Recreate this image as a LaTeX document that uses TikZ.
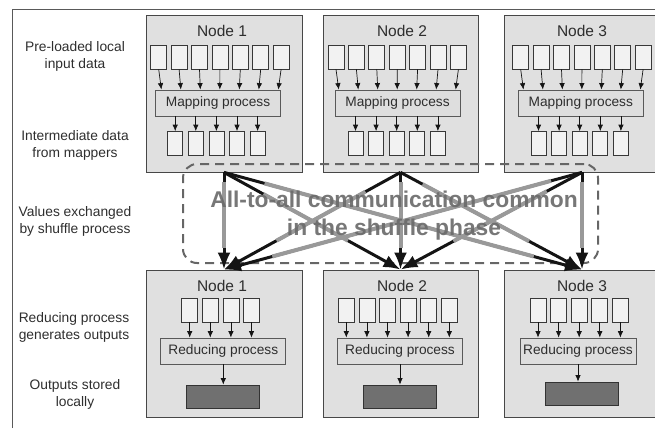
\documentclass[tikz,border=0pt]{standalone}
\usepackage{fontspec}
\setmainfont{Liberation Sans}
\usetikzlibrary{arrows.meta,calc}

\tikzset{
  frame/.style={draw=black!65, line width=0.8pt},
  rowlabel/.style={align=center, text=black!82, font=\fontsize{13.8}{17}\selectfont, inner sep=0pt},
  nodebox/.style={draw=black!72, fill=black!12, line width=0.8pt, inner sep=0pt},
  nodetitle/.style={text=black!82, font=\fontsize{15.5}{18}\selectfont, inner sep=0pt},
  databox/.style={draw=black!78, fill=black!5, line width=0.7pt, minimum width=16pt, minimum height=24pt, inner sep=0pt},
  procbox/.style={draw=black!65, fill=black!13, line width=0.8pt, minimum height=26pt, inner sep=0pt,
    text=black!82, font=\fontsize{13.7}{16}\selectfont},
  resultbox/.style={draw=black!80, fill=black!56, line width=0.8pt, minimum height=23pt, inner sep=0pt},
  smallarrow/.style={-{Latex[length=6.5pt,width=5.5pt]}, line width=0.7pt, black!92},
  shufflearrow/.style={-{Latex[length=17pt,width=13pt]}, line width=3pt, black!92},
  shufflegrey/.style={line width=4pt, black!40},
  shufflearea/.style={draw=black!60, line width=2pt, dash pattern=on 9pt off 6pt, rounded corners=14pt,
    minimum width=415pt, minimum height=99pt, inner sep=0pt},
  shuffletext/.style={align=center, text=black!58, font=\fontsize{22.8}{28}\selectfont\bfseries, inner sep=0pt}
}

\begin{document}
\begin{tikzpicture}[x=1pt,y=-1pt]
\useasboundingbox (0,0) rectangle (655,428);

%outer frame
\draw[frame] (12,428) -- (12,9) -- (655,9);

%row labels
\node[rowlabel] (lbl1) at (75,56.5) {Pre-loaded local\\input data};
\node[rowlabel] (lbl2) at (75,145.5) {Intermediate data\\from mappers};
\node[rowlabel] (lbl3) at (75,221) {Values exchanged\\by shuffle process};
\node[rowlabel] (lbl4) at (74,327) {Reducing process\\generates outputs};
\node[rowlabel] (lbl5) at (75,394.5) {Outputs stored\\locally};

%mapper nodes
\node[nodebox, minimum width=156pt, minimum height=157pt] (mapnode1) at (224,93.5) {};
\node[nodebox, minimum width=155pt, minimum height=157pt] (mapnode2) at (400.5,93.5) {};
\node[nodebox, minimum width=156pt, minimum height=157pt] (mapnode3) at (582,93.5) {};

\foreach \n/\xt/\xa/\xm/\xb in {1/222/158.7/218/175.2, 2/402/336/397.5/355.5, 3/582/520.7/580.8/538.5} {
  \node[nodetitle] (maptitle\n) at (\xt,31) {Node \n};
  \node[procbox, minimum width=125pt] (map\n) at (\xm,103) {Mapping process};
  %input data
  \foreach \k in {0,...,6} {
    \node[databox] (in\n-\k) at (\xa+20.4*\k,57) {};
    \draw[smallarrow] (in\n-\k.south) -- ($(map\n.north)!0.955!(map\n.north -| in\n-\k.south)$);
  }
  %intermediate data
  \foreach \k in {0,...,4} {
    \node[databox, minimum width=15pt] (mid\n-\k) at (\xb+20.6*\k,143.5) {};
    \draw[smallarrow] (map\n.south -| mid\n-\k.north) -- (mid\n-\k.north);
  }
}

%reducer nodes
\node[nodebox, minimum width=156pt, minimum height=147pt] (rednode1) at (224,343.5) {};
\node[nodebox, minimum width=155pt, minimum height=147pt] (rednode2) at (400.5,343.5) {};
\node[nodebox, minimum width=156pt, minimum height=147pt] (rednode3) at (582,343.5) {};

\foreach \n/\xt/\xa/\last/\xr/\wr/\xo/\yo in {1/222/189.7/3/223.3/125/223/396.5,
    2/402/346.3/5/400/125/400/396.5, 3/582/538/4/578/116/581.7/393.5} {
  \node[nodetitle] (redtitle\n) at (\xt,286) {Node \n};
  \node[procbox, minimum width=\wr pt] (red\n) at (\xr,351) {Reducing process};
  \foreach \k in {0,...,\last} {
    \node[databox] (rin\n-\k) at (\xa+20.6*\k,310) {};
    \draw[smallarrow] (rin\n-\k.south) -- (rin\n-\k.south |- red\n.north);
  }
  %stored output
  \node[resultbox, minimum width=73pt] (res\n) at (\xo,\yo) {};
  \draw[smallarrow] (red\n.south) -- (red\n.south |- res\n.north);
}

%shuffle phase
\node[shufflearea] (area) at (390.5,213.5) {};

\foreach \s/\t in {1/1,1/2,1/3,2/1,2/2,2/3,3/1,3/2,3/3}
  \draw[shufflearrow] (mapnode\s.south) -- (rednode\t.north);

%grey middle part of each transfer
\foreach \s/\t/\a/\b in {1/1/10/22, 2/2/10/22, 3/3/10/22, 1/2/45/60, 1/3/42/50,
    2/1/40/60, 2/3/25/60, 3/1/32/50, 3/2/40/60}
  \draw[shufflegrey, shorten <=\a pt, shorten >=\b pt] (mapnode\s.south) -- (rednode\t.north);

\node[shuffletext, opacity=0.92] (shuffle) at (394,216) {All-to-all communication common\\in the shuffle phase};

\end{tikzpicture}
\end{document}
